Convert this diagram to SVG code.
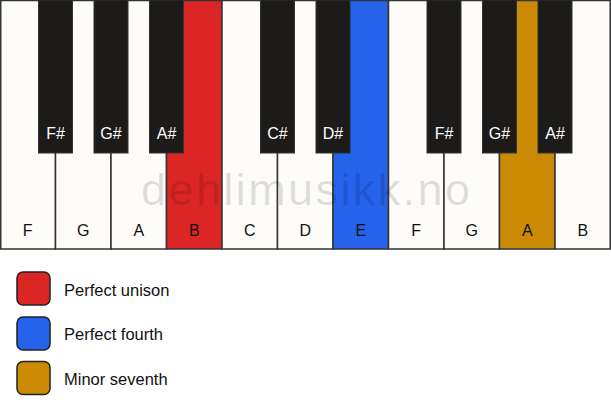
<svg xmlns="http://www.w3.org/2000/svg" width="611" height="417" viewBox="0 0 611 417">
<style>
.w{fill:#fdfcf9;stroke:#333;stroke-width:1.5}
.b{fill:#1c1b19;stroke:#333;stroke-width:1}
.wl{font-family:"Liberation Sans",Arial,sans-serif;font-size:16px;fill:#111;text-anchor:middle}
.bl{font-family:"Liberation Sans",Arial,sans-serif;font-size:16px;fill:#fff;text-anchor:middle}
.lg{font-family:"Liberation Sans",Arial,sans-serif;font-size:16.5px;fill:#111}
.sw{stroke:#222;stroke-width:1.5}
</style>
<rect width="611" height="417" fill="#fff"/>
<g id="white-keys">
<g id="key-F1"><rect class="w" x="0.75" y="0.5" width="54.75" height="248.5"/><text class="wl" x="27.75" y="236">F</text></g>
<g id="key-G1"><rect class="w" x="55.5" y="0.5" width="55.5" height="248.5"/><text class="wl" x="83.25" y="236">G</text></g>
<g id="key-A1"><rect class="w" x="111" y="0.5" width="55.5" height="248.5"/><text class="wl" x="138.75" y="236">A</text></g>
<g id="key-B1"><rect class="w" x="166.5" y="0.5" width="55.5" height="248.5" style="fill:#dc2626"/><text class="wl" x="194.25" y="236">B</text></g>
<g id="key-C"><rect class="w" x="222" y="0.5" width="55.5" height="248.5"/><text class="wl" x="249.75" y="236">C</text></g>
<g id="key-D"><rect class="w" x="277.5" y="0.5" width="55.5" height="248.5"/><text class="wl" x="305.25" y="236">D</text></g>
<g id="key-E"><rect class="w" x="333" y="0.5" width="55.5" height="248.5" style="fill:#2563eb"/><text class="wl" x="360.75" y="236">E</text></g>
<g id="key-F2"><rect class="w" x="388.5" y="0.5" width="55.5" height="248.5"/><text class="wl" x="416.25" y="236">F</text></g>
<g id="key-G2"><rect class="w" x="444" y="0.5" width="55.5" height="248.5"/><text class="wl" x="471.75" y="236">G</text></g>
<g id="key-A2"><rect class="w" x="499.5" y="0.5" width="55.5" height="248.5" style="fill:#ca8a04"/><text class="wl" x="527.25" y="236">A</text></g>
<g id="key-B2"><rect class="w" x="555" y="0.5" width="55.25" height="248.5"/><text class="wl" x="582.75" y="236">B</text></g>
</g>
<g id="black-keys">
<g id="key-Fs1"><rect class="b" x="38.5" y="0" width="34" height="153"/><text class="bl" x="55.5" y="139">F#</text></g>
<g id="key-Gs1"><rect class="b" x="94" y="0" width="34" height="153"/><text class="bl" x="111" y="139">G#</text></g>
<g id="key-As1"><rect class="b" x="149.5" y="0" width="34" height="153"/><text class="bl" x="166.5" y="139">A#</text></g>
<g id="key-Cs"><rect class="b" x="260.5" y="0" width="34" height="153"/><text class="bl" x="277.5" y="139">C#</text></g>
<g id="key-Ds"><rect class="b" x="316" y="0" width="34" height="153"/><text class="bl" x="333" y="139">D#</text></g>
<g id="key-Fs2"><rect class="b" x="427" y="0" width="34" height="153"/><text class="bl" x="444" y="139">F#</text></g>
<g id="key-Gs2"><rect class="b" x="482.5" y="0" width="34" height="153"/><text class="bl" x="499.5" y="139">G#</text></g>
<g id="key-As2"><rect class="b" x="538" y="0" width="34" height="153"/><text class="bl" x="555" y="139">A#</text></g>
</g>
<text id="watermark" x="141" y="205" font-family="'Liberation Sans',Arial,sans-serif" font-size="45" fill="#000" fill-opacity="0.12" textLength="329" lengthAdjust="spacing">dehlimusikk.no</text>
<g id="legend">
<g id="legend-unison"><rect class="sw" x="17" y="272" width="33" height="33" rx="6" fill="#dc2626"/><text class="lg" x="64" y="296">Perfect unison</text></g>
<g id="legend-fourth"><rect class="sw" x="17" y="317" width="33" height="33" rx="6" fill="#2563eb"/><text class="lg" x="64" y="340">Perfect fourth</text></g>
<g id="legend-seventh"><rect class="sw" x="17" y="361.5" width="33" height="33" rx="6" fill="#ca8a04"/><text class="lg" x="64" y="385">Minor seventh</text></g>
</g>
<g id="connectors"/>
</svg>
